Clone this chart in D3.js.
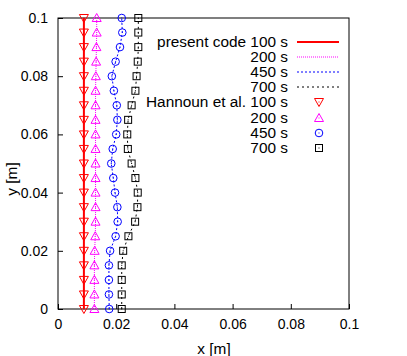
<!DOCTYPE html>
<html>
<head>
<meta charset="utf-8">
<script src="https://cdn.jsdelivr.net/npm/d3@7"></script>
<style>
  body { margin: 0; background: #fff; }
  svg { display: block; font-family: "Liberation Sans", Arial, sans-serif; }
  .lbl { font-size: 15.4px; fill: #000; }
</style>
</head>
<body>
<div id="vis1"></div>
<script>
// y positions (m), every 0.005
var yVals = [0, 0.005, 0.01, 0.015, 0.02, 0.025, 0.03, 0.035, 0.04, 0.045, 0.05,
             0.055, 0.06, 0.065, 0.07, 0.075, 0.08, 0.085, 0.09, 0.095, 0.1];

// x positions, one per y
var x100 = [0.0089, 0.0089, 0.0089, 0.0089, 0.0089, 0.0089, 0.0089, 0.0089, 0.0089, 0.0089, 0.0089,
            0.0089, 0.0089, 0.0089, 0.0089, 0.0089, 0.0089, 0.0089, 0.0089, 0.0089, 0.0089];
var x200 = [0.0125, 0.0125, 0.0125, 0.0125, 0.0126, 0.0128, 0.0129, 0.0129, 0.0129, 0.0129, 0.0129,
            0.0129, 0.0129, 0.0129, 0.0129, 0.0129, 0.0130, 0.0131, 0.0132, 0.0133, 0.0133];
var x450 = [0.0176, 0.0175, 0.0175, 0.0175, 0.0179, 0.0198, 0.0205, 0.0204, 0.0196, 0.0190, 0.0183,
            0.0188, 0.0200, 0.0204, 0.0202, 0.0192, 0.0185, 0.0198, 0.0213, 0.0221, 0.0219];
var x700 = [0.0219, 0.0219, 0.0219, 0.0219, 0.0224, 0.0242, 0.0265, 0.0273, 0.0274, 0.0266, 0.0253,
            0.0240, 0.0238, 0.0241, 0.0253, 0.0266, 0.0270, 0.0274, 0.0276, 0.0276, 0.0276];

var xTicks = [0, 0.02, 0.04, 0.06, 0.08, 0.1];
var yTicks = [0, 0.02, 0.04, 0.06, 0.08, 0.1];
var times = ["100 s", "200 s", "450 s", "700 s"];

var width = 407, height = 356;
var pLeft = 58, pRight = 349, pTop = 18, pBottom = 309;

var svg = d3.select("#vis1").append("svg")
    .attr("width", width)
    .attr("height", height);

var xScale = d3.scaleLinear().domain([0, 0.1]).range([pLeft, pRight]);
var yScale = d3.scaleLinear().domain([0, 0.1]).range([pBottom, pTop]);

var fmt = function(d) { return d === 0 ? "0" : String(+d.toFixed(2)); };

svg.append("g")
    .attr("transform", "translate(0," + pBottom + ")")
    .call(d3.axisBottom(xScale).tickValues(xTicks).tickFormat(fmt).tickSizeInner(-5).tickSizeOuter(0).tickPadding(10))
    .call(function(g) { g.select(".domain").remove(); })
    .selectAll(".tick line").attr("stroke", "#000");

svg.append("g")
    .attr("transform", "translate(" + pLeft + ",0)")
    .call(d3.axisLeft(yScale).tickValues(yTicks).tickFormat(fmt).tickSizeInner(-5).tickSizeOuter(0).tickPadding(10))
    .call(function(g) { g.select(".domain").remove(); })
    .selectAll(".tick line").attr("stroke", "#000");

svg.selectAll(".tick text").attr("font-size", 14).attr("font-family", null).attr("fill", "#000");

// frame
svg.append("rect")
    .attr("x", pLeft).attr("y", pTop)
    .attr("width", pRight - pLeft).attr("height", pBottom - pTop)
    .attr("fill", "none").attr("stroke", "#000").attr("stroke-width", 1);

svg.append("text").attr("class", "lbl")
    .attr("x", 214).attr("y", 354)
    .attr("text-anchor", "middle")
    .text("x [m]");

svg.append("text").attr("class", "lbl")
    .attr("transform", "translate(17,179) rotate(-90)")
    .attr("text-anchor", "middle")
    .text("y [m]");

var series = [
  { xs: x100, color: "#ff0000", dash: null, w: 2, marker: "down" },
  { xs: x200, color: "#ff00ff", dash: "1,1", w: 1, marker: "up" },
  { xs: x450, color: "#0000ff", dash: "2,2", w: 1, marker: "circle" },
  { xs: x700, color: "#000000", dash: "2,3", w: 1, marker: "square" }
];

var line = d3.line()
    .x(function(d) { return xScale(d[0]); })
    .y(function(d) { return yScale(d[1]); });

function drawMarker(g, type, color, cx, cy) {
  var m = g.append("g").attr("transform", "translate(" + cx + "," + cy + ")");
  if (type === "down") {
    m.append("path").attr("d", "M-4.5,-3.5L4.5,-3.5L0,4.5Z");
  } else if (type === "up") {
    m.append("path").attr("d", "M-4.5,3.5L4.5,3.5L0,-4.5Z");
  } else if (type === "circle") {
    m.append("circle").attr("r", 3.8);
  } else {
    m.append("rect").attr("x", -3.5).attr("y", -3.5).attr("width", 7).attr("height", 7);
  }
  m.selectAll("path, circle, rect").attr("fill", "none").attr("stroke", color).attr("stroke-width", 1);
  m.append("rect").attr("x", -0.5).attr("y", -0.5).attr("width", 1).attr("height", 1).attr("fill", color);
}

series.forEach(function(s) {
  var pts = s.xs.map(function(x, i) { return [x, yVals[i]]; });
  svg.append("path")
      .datum(pts)
      .attr("d", line)
      .attr("fill", "none")
      .attr("stroke", s.color)
      .attr("stroke-width", s.w)
      .attr("stroke-dasharray", s.dash);
});

series.forEach(function(s) {
  var g = svg.append("g");
  s.xs.forEach(function(x, i) {
    drawMarker(g, s.marker, s.color, xScale(x), yScale(yVals[i]));
  });
});

// legend
var legX = 288, lineX0 = 297, lineX1 = 339, markX = 319;
var rowY = [42, 57, 72, 87, 102, 118, 133, 148];
series.forEach(function(s, i) {
  var y = rowY[i];
  svg.append("text").attr("class", "lbl")
      .attr("x", legX).attr("y", y + 5)
      .attr("text-anchor", "end")
      .text((i === 0 ? "present code " : "") + times[i]);
  svg.append("line")
      .attr("x1", lineX0).attr("x2", lineX1)
      .attr("y1", y).attr("y2", y)
      .attr("stroke", s.color)
      .attr("stroke-width", s.w)
      .attr("stroke-dasharray", s.dash);
});
series.forEach(function(s, i) {
  var y = rowY[i + 4];
  svg.append("text").attr("class", "lbl")
      .attr("x", legX).attr("y", y + 5)
      .attr("text-anchor", "end")
      .text((i === 0 ? "Hannoun et al. " : "") + times[i]);
  drawMarker(svg, s.marker, s.color, markX, y);
});
</script>
</body>
</html>
